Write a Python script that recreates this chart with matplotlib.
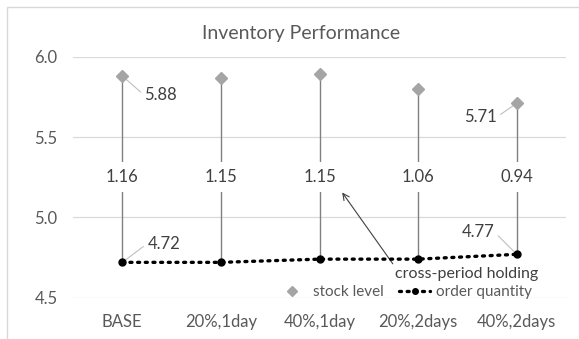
import matplotlib
matplotlib.use("Agg")
import matplotlib.pyplot as plt
from matplotlib.patches import Rectangle

plt.rcParams['font.family'] = ['Lato', 'DejaVu Sans']

categories = ["BASE", "20%,1day", "40%,1day", "20%,2days", "40%,2days"]
stock_level = [5.88, 5.87, 5.89, 5.80, 5.71]
order_quantity = [4.72, 4.72, 4.74, 4.74, 4.77]
yticks = [4.5, 5.0, 5.5, 6.0]

fig = plt.figure(figsize=(5.79, 3.39), dpi=100)
fig.patches.append(Rectangle((7/579, -0.1), 1.2, 1 - 7/339 + 0.1, transform=fig.transFigure,
                             fill=False, edgecolor='#d9d9d9', linewidth=1.0))
ax = fig.add_axes([73/579, 1 - 297.7/339, 493/579, 241/339])
x = list(range(len(categories)))

for s in ax.spines.values():
    s.set_visible(False)
ax.set_ylim(4.5, 6.0)
ax.set_xlim(-0.5, len(categories) - 0.5)
ax.set_yticks(yticks)
ax.set_yticklabels([f"{v:.1f}" for v in yticks])
ax.set_xticks(x)
ax.set_xticklabels(categories)
ax.tick_params(axis='both', length=0, labelsize=12, labelcolor='#595959')
ax.tick_params(axis='y', pad=11)
ax.tick_params(axis='x', pad=12)
ax.grid(axis='y', color='#d9d9d9', linewidth=0.9)
ax.set_axisbelow(True)

fs = 12
# high-low lines
mid_y = 5.25
for xi, s, o in zip(x, stock_level, order_quantity):
    ax.plot([xi, xi], [o, s], color='#808080', linewidth=1.0, zorder=2)
    ax.text(xi, mid_y, f"{s - o:.2f}", ha='center', va='center', fontsize=fs, color='#404040',
            bbox=dict(facecolor='white', edgecolor='none', pad=5), zorder=3)

ax.plot(x, stock_level, linestyle='none', marker='D', markersize=6, color='#a5a5a5', zorder=4,
        label='stock level')
ax.plot(x, order_quantity, linestyle=(0, (0.6, 1.7)), dash_capstyle='round', linewidth=2.4,
        marker='o', markersize=5, color='black', zorder=4, label='order quantity')

lead = dict(arrowstyle='-', color='#bfbfbf', linewidth=0.8, shrinkA=1, shrinkB=3)
ann = [(0, stock_level[0], (16, -14), 'left'),
       (0, order_quantity[0], (18, 13.5), 'left'),
       (4, stock_level[4], (-14.5, -10), 'right'),
       (4, order_quantity[4], (-16, 16), 'right')]
for xi, v, off, ha in ann:
    ax.annotate(f"{v:.2f}", xy=(xi, v), xytext=off, textcoords='offset points', ha=ha, va='center',
                fontsize=fs, color='#404040',
                arrowprops=dict(lead, relpos=(0 if ha == 'left' else 1, 0.5)))

ax.annotate("cross-period holding", xy=(2.23, 5.155), xytext=(3.49, 4.65), ha='center', va='center',
            fontsize=11.5, color='#404040',
            arrowprops=dict(arrowstyle='->', color='#404040', linewidth=0.8, relpos=(0.0, 1.0),
                            shrinkA=0, shrinkB=0))

leg = ax.legend(loc='center', bbox_to_anchor=(0.672, 0.024), ncol=2, frameon=False, fontsize=11,
                handlelength=2.0, columnspacing=1.0, handletextpad=0.4, borderpad=0, markerscale=0.8)
for t in leg.get_texts():
    t.set_color('#595959')

fig.text(301/579, 1 - 33/339, "Inventory Performance", ha='center', va='center', fontsize=14,
         color='#595959')

fig.savefig("out.png", dpi=100)
